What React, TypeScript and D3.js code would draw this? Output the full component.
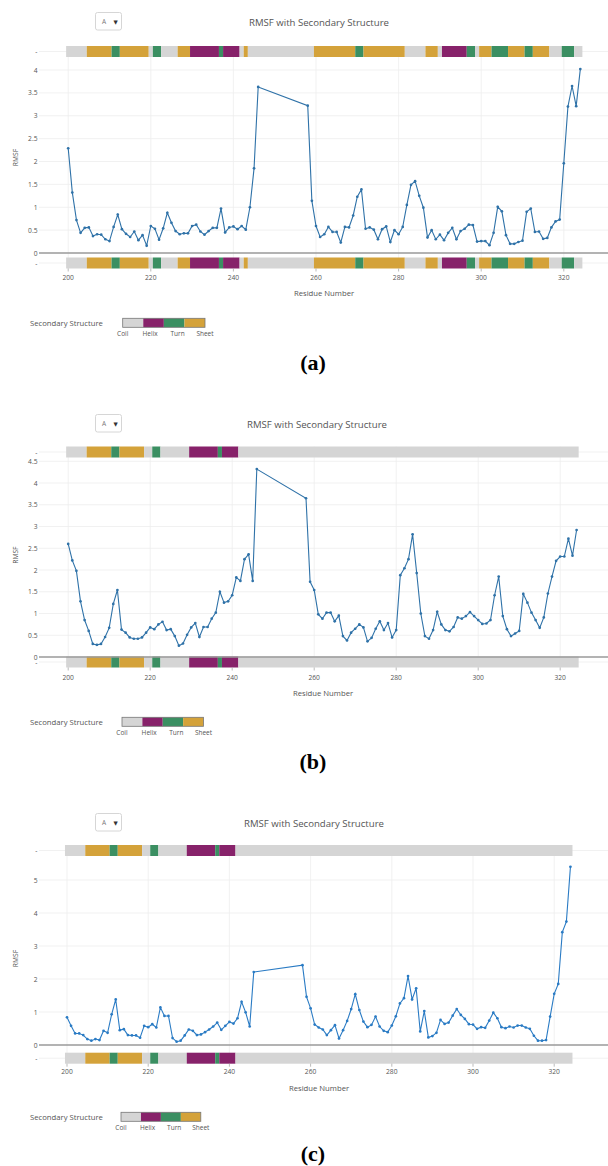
import * as d3 from 'd3';

// residues present in the trajectory (gap 247-257)
const RESIDUE_RANGES: [number, number][] = [[200, 246], [258, 324]];

const RMSF_A = [
  2.29, 1.32, 0.72, 0.44, 0.55, 0.56, 0.37, 0.41, 0.40, 0.30, 0.26, 0.57, 0.84, 0.52, 0.42, 0.35,
  0.47, 0.28, 0.39, 0.16, 0.59, 0.53, 0.29, 0.54, 0.88, 0.66, 0.48, 0.41, 0.43, 0.43, 0.59, 0.62,
  0.47, 0.40, 0.48, 0.55, 0.55, 0.97, 0.45, 0.56, 0.58, 0.52, 0.59, 0.51, 1.00, 1.85, 3.63,
  3.22, 1.14, 0.59, 0.35, 0.41, 0.57, 0.46, 0.46, 0.23, 0.57, 0.56, 0.82, 1.23, 1.39, 0.53, 0.56,
  0.51, 0.30, 0.52, 0.58, 0.24, 0.50, 0.41, 0.57, 1.05, 1.49, 1.57, 1.25, 0.99, 0.34, 0.50, 0.30,
  0.40, 0.28, 0.44, 0.55, 0.30, 0.48, 0.53, 0.62, 0.61, 0.25, 0.26, 0.26, 0.17, 0.44, 1.01, 0.91,
  0.39, 0.20, 0.20, 0.24, 0.27, 0.90, 0.97, 0.46, 0.47, 0.31, 0.33, 0.56, 0.69, 0.73, 1.96, 3.20,
  3.65, 3.21, 4.02,
];

const RMSF_B = [
  2.60, 2.22, 1.98, 1.28, 0.85, 0.60, 0.30, 0.28, 0.30, 0.46, 0.67, 1.22, 1.54, 0.63, 0.56, 0.45,
  0.42, 0.42, 0.45, 0.56, 0.68, 0.64, 0.75, 0.81, 0.62, 0.64, 0.48, 0.26, 0.31, 0.51, 0.68, 0.78,
  0.46, 0.69, 0.69, 0.88, 1.02, 1.50, 1.25, 1.28, 1.42, 1.83, 1.75, 2.25, 2.36, 1.75, 4.32,
  3.65, 1.73, 1.54, 0.98, 0.88, 1.02, 1.02, 0.82, 0.95, 0.48, 0.38, 0.56, 0.65, 0.75, 0.68, 0.36,
  0.44, 0.65, 0.82, 0.62, 0.78, 0.45, 0.62, 1.88, 2.04, 2.25, 2.82, 1.93, 1.00, 0.48, 0.42, 0.62,
  1.04, 0.75, 0.62, 0.59, 0.69, 0.91, 0.88, 0.94, 1.03, 0.94, 0.85, 0.76, 0.77, 0.85, 1.42, 1.85,
  0.94, 0.64, 0.48, 0.54, 0.60, 1.45, 1.25, 1.02, 0.85, 0.67, 0.91, 1.46, 1.85, 2.21, 2.31, 2.31,
  2.72, 2.33, 2.92,
];

const RMSF_C = [
  0.84, 0.58, 0.35, 0.35, 0.30, 0.18, 0.13, 0.18, 0.15, 0.43, 0.37, 0.93, 1.38, 0.45, 0.48, 0.30,
  0.29, 0.29, 0.22, 0.58, 0.54, 0.63, 0.53, 1.14, 0.88, 0.88, 0.21, 0.10, 0.13, 0.29, 0.47, 0.43,
  0.30, 0.32, 0.39, 0.47, 0.56, 0.68, 0.46, 0.58, 0.70, 0.65, 0.81, 1.31, 0.99, 0.56, 2.21,
  2.42, 1.46, 1.11, 0.62, 0.53, 0.47, 0.30, 0.45, 0.60, 0.20, 0.45, 0.73, 1.09, 1.54, 1.06, 0.71,
  0.54, 0.61, 0.86, 0.56, 0.43, 0.39, 0.59, 0.87, 1.26, 1.42, 2.09, 1.38, 1.72, 0.41, 1.03, 0.23,
  0.27, 0.37, 0.76, 0.64, 0.68, 0.89, 1.09, 0.91, 0.79, 0.63, 0.62, 0.49, 0.54, 0.52, 0.74, 0.98,
  0.81, 0.54, 0.51, 0.56, 0.53, 0.59, 0.59, 0.53, 0.49, 0.28, 0.13, 0.13, 0.15, 0.86, 1.55, 1.85,
  3.42, 3.74, 5.40,
];

// secondary structure segments: [first residue, last residue, type]
const SS_A: [number, number, string][] = [
  [200, 204, 'Coil'], [205, 210, 'Sheet'], [211, 212, 'Turn'], [213, 219, 'Sheet'], [220, 220, 'Coil'],
  [221, 222, 'Turn'], [223, 226, 'Coil'], [227, 229, 'Sheet'], [230, 236, 'Helix'], [237, 237, 'Turn'],
  [238, 241, 'Helix'], [242, 242, 'Coil'], [243, 243, 'Sheet'], [244, 259, 'Coil'], [260, 269, 'Sheet'],
  [270, 271, 'Turn'], [272, 281, 'Sheet'], [282, 286, 'Coil'], [287, 289, 'Sheet'], [290, 290, 'Coil'],
  [291, 296, 'Helix'], [297, 298, 'Turn'], [299, 299, 'Coil'], [300, 302, 'Sheet'], [303, 306, 'Turn'],
  [307, 310, 'Sheet'], [311, 312, 'Turn'], [313, 316, 'Sheet'], [317, 319, 'Coil'], [320, 322, 'Turn'],
  [323, 324, 'Coil'],
];

const SS_BC: [number, number, string][] = [
  [200, 204, 'Coil'], [205, 210, 'Sheet'], [211, 212, 'Turn'], [213, 218, 'Sheet'], [219, 220, 'Coil'],
  [221, 222, 'Turn'], [223, 229, 'Coil'], [230, 236, 'Helix'], [237, 237, 'Turn'], [238, 241, 'Helix'],
  [242, 324, 'Coil'],
];

const SS_TYPES = ['Coil', 'Helix', 'Turn', 'Sheet'];
const SS_COLORS = ['#d5d5d5', '#87226a', '#3b8f62', '#d4a23a'];

const X_TICKS = [200, 220, 240, 260, 280, 300, 320];
const Y_TICKS_A = [0, 0.5, 1, 1.5, 2, 2.5, 3, 3.5, 4];
const Y_TICKS_B = [0, 0.5, 1, 1.5, 2, 2.5, 3, 3.5, 4, 4.5];
const Y_TICKS_C = [0, 1, 2, 3, 4, 5];

const TITLE = 'RMSF with Secondary Structure';
const CAPTIONS = ['(a)', '(b)', '(c)'];

const FONT = '"Open Sans", "DejaVu Sans", sans-serif';
const ssColor = d3.scaleOrdinal<string, string>().domain(SS_TYPES).range(SS_COLORS);

const W = 608;
const H = 1166;
const PLOT_LEFT = 39;

function residues() {
  return RESIDUE_RANGES.flatMap(([a, b]) => d3.range(a, b + 1));
}

function Panel(props: any) {
  const { values, ss, yTicks, caption, L } = props;
  const x = d3.scaleLinear().domain([200, 320]).range([L.x200, L.x200 + 120 * L.pxPerRes]);
  const y = d3.scaleLinear().domain([0, 1]).range([L.yZero, L.yZero - L.yPerUnit]);
  const pts: [number, number][] = residues().map((r, i) => [r, values[i]]);
  const line = d3.line<[number, number]>().x(d => x(d[0])).y(d => y(d[1]));
  const barH = 11;
  const cbar = d3.scaleBand().domain(SS_TYPES).range([L.cbX0, L.cbX1]);
  const cbLabel = d3.scaleLinear().domain([0, SS_TYPES.length - 1]).range([L.cbX0, L.cbX1]);
  const plotTop = y(yTicks[yTicks.length - 1]) - 8;

  const bars = (y0: number) =>
    ss.map(([s, e, t]: [number, number, string], i: number) => (
      <rect key={i} x={x(s - 0.5)} y={y0} width={x(e + 0.5) - x(s - 0.5)} height={barH} fill={ssColor(t)} />
    ));

  return (
    <g fontFamily={FONT}>
      {/* dropdown */}
      <rect x={95.5} y={L.dropY} width={26} height={17.5} rx={2} fill="#fff" stroke="#d6d6d6" />
      <text x={104} y={L.dropY + 9} fontSize={6.5} fill="#777" dominantBaseline="central" textAnchor="middle">A</text>
      <text x={115.5} y={L.dropY + 9} fontSize={5.5} fill="#333" dominantBaseline="central" textAnchor="middle">▼</text>
      <text x={L.titleX} y={L.titleY} fontSize={9.6} fill="#555" dominantBaseline="central" textAnchor="middle">{TITLE}</text>

      {/* grid */}
      {X_TICKS.map(t => (
        <line key={'gx' + t} x1={x(t)} x2={x(t)} y1={L.barTop} y2={L.barBot + barH} stroke="#eeeeee" strokeWidth={0.8} />
      ))}
      {yTicks.filter((t: number) => t > 0).map((t: number) => (
        <line key={'gy' + t} x1={PLOT_LEFT} x2={W} y1={y(t)} y2={y(t)} stroke="#eeeeee" strokeWidth={0.8} />
      ))}
      <line x1={PLOT_LEFT} x2={W} y1={L.barTop + barH / 2} y2={L.barTop + barH / 2} stroke="#eeeeee" strokeWidth={0.8} />
      <line x1={PLOT_LEFT} x2={W} y1={L.barBot + barH / 2} y2={L.barBot + barH / 2} stroke="#eeeeee" strokeWidth={0.8} />

      {/* secondary structure strips */}
      {bars(L.barTop)}
      {bars(L.barBot)}

      {/* zero line */}
      <line x1={PLOT_LEFT} x2={W} y1={y(0)} y2={y(0)} stroke="#9a9a9a" strokeWidth={1.3} />

      {/* y tick labels */}
      {yTicks.map((t: number) => (
        <text key={'ty' + t} x={37.5} y={y(t)} fontSize={6.7} fill="#555" textAnchor="end" dominantBaseline="central">{t}</text>
      ))}
      <text x={37.5} y={L.barTop + barH / 2} fontSize={6.7} fill="#555" textAnchor="end" dominantBaseline="central">-</text>
      <text x={37.5} y={L.barBot + barH / 2} fontSize={6.7} fill="#555" textAnchor="end" dominantBaseline="central">-</text>
      <text transform={`translate(15,${(plotTop + y(0)) / 2}) rotate(-90)`} fontSize={6.7} fill="#555" textAnchor="middle" dominantBaseline="central">RMSF</text>

      {/* x axis */}
      {X_TICKS.map(t => (
        <g key={'tx' + t}>
          <line x1={x(t)} x2={x(t)} y1={L.barBot + barH} y2={L.barBot + barH + 3} stroke="#aaa" strokeWidth={0.8} />
          <text x={x(t)} y={L.tickY} fontSize={6.7} fill="#555" textAnchor="middle" dominantBaseline="central">{t}</text>
        </g>
      ))}
      <text x={L.axisX} y={L.axisTitleY} fontSize={7.7} fill="#555" textAnchor="middle" dominantBaseline="central">Residue Number</text>

      {/* RMSF line */}
      <path d={line(pts) || ''} fill="none" stroke={L.color} strokeWidth={1.1} />
      {pts.map((p, i) => (
        <circle key={i} cx={x(p[0])} cy={y(p[1])} r={1.35} fill={L.color} />
      ))}

      {/* legend */}
      <text x={30} y={L.legendY} fontSize={7.7} fill="#555" dominantBaseline="central">Secondary Structure</text>
      {SS_TYPES.map(t => (
        <rect key={'cb' + t} x={cbar(t)} y={L.legendY - 4.7} width={cbar.bandwidth()} height={9} fill={ssColor(t)} />
      ))}
      <rect x={L.cbX0} y={L.legendY - 4.7} width={L.cbX1 - L.cbX0} height={9} fill="none" stroke="#777" strokeWidth={0.8} />
      {SS_TYPES.map((t, i) => (
        <text key={'cl' + t} x={cbLabel(i)} y={L.legendY + 10.5} fontSize={6.5} fill="#555" textAnchor="middle" dominantBaseline="central">{t}</text>
      ))}

      <text x={313} y={L.capY} fontSize={22} fontWeight="bold" fontFamily='"Liberation Serif", "Times New Roman", serif' fill="#000" textAnchor="middle" dominantBaseline="central">{caption}</text>
    </g>
  );
}

const LAYOUTS = [
  { x200: 68.2, pxPerRes: 4.13, dropY: 12.5, titleX: 319, titleY: 22, barTop: 46, yZero: 253, yPerUnit: 45.75, barBot: 257.5, tickY: 277, axisX: 324, axisTitleY: 293, legendY: 323, cbX0: 122.7, cbX1: 205, capY: 362, color: '#2f72a8' },
  { x200: 68.2, pxPerRes: 4.1, dropY: 414.5, titleX: 317, titleY: 424, barTop: 446.5, yZero: 657, yPerUnit: 43.5, barBot: 656.5, tickY: 677, axisX: 323, axisTitleY: 692.5, legendY: 722, cbX0: 122, cbX1: 203.5, capY: 761, color: '#2f72a8' },
  { x200: 67, pxPerRes: 4.06, dropY: 813.5, titleX: 314, titleY: 823, barTop: 845, yZero: 1045, yPerUnit: 33, barBot: 1052.7, tickY: 1071, axisX: 319, axisTitleY: 1088, legendY: 1117, cbX0: 121, cbX1: 200.8, capY: 1153, color: '#2a7bc4' },
];

export default function App() {
  const series = [RMSF_A, RMSF_B, RMSF_C];
  const ssList = [SS_A, SS_BC, SS_BC];
  const ticks = [Y_TICKS_A, Y_TICKS_B, Y_TICKS_C];
  return (
    <svg width={W} height={H} style={{ position: 'absolute', left: 0, top: 0, background: '#fff' }}>
      <rect width={W} height={H} fill="#fff" />
      {LAYOUTS.map((L, i) => (
        <Panel key={i} L={L} values={series[i]} ss={ssList[i]} yTicks={ticks[i]} caption={CAPTIONS[i]} />
      ))}
    </svg>
  );
}
